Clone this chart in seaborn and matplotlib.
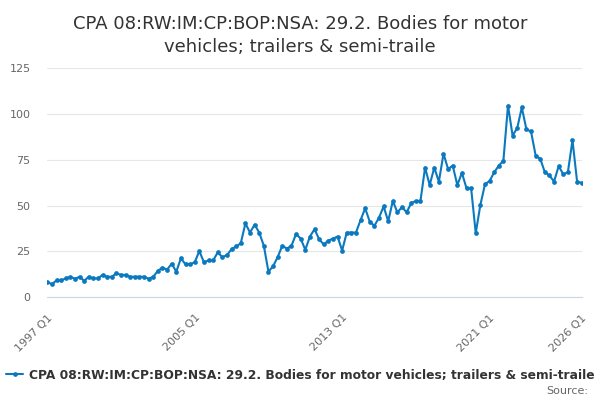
import matplotlib
matplotlib.use("Agg")
import matplotlib.pyplot as plt
import seaborn as sns
import pandas as pd

TITLE_LINES = ["CPA 08:RW:IM:CP:BOP:NSA: 29.2. Bodies for motor",
               "vehicles; trailers & semi-traile"]
SERIES_NAME = "CPA 08:RW:IM:CP:BOP:NSA: 29.2. Bodies for motor vehicles; trailers & semi-traile"

first_year = 1997
# quarterly values, 1997 Q1 .. 2026 Q1
values = [
    8.3, 7.2, 9.2, 9.2, 10.3, 11.2, 10.1, 11.2, 9.0, 11.2, 10.3, 10.3,
    12.2, 11.2, 11.2, 13.1, 12.2, 12.2, 11.2, 11.2, 11.2, 11.2, 10.1, 11.2,
    14.4, 16.2, 15.1, 18.3, 14.0, 21.2, 18.0, 18.0, 19.1, 25.2, 19.1, 20.1,
    20.1, 24.5, 21.9, 23.0, 26.3, 27.7, 29.5, 40.3, 35.3, 39.6, 35.3, 28.1,
    14.0, 16.9, 21.9, 28.1, 26.6, 28.1, 34.5, 32.0, 25.9, 33.1, 37.1, 31.7,
    28.8, 30.9, 32.0, 33.1, 25.5, 35.3, 35.3, 35.3, 42.1, 48.5, 41.2, 39.0,
    43.4, 49.5, 41.5, 52.5, 46.3, 49.2, 46.3, 51.4, 52.5, 52.5, 70.7, 61.2,
    70.7, 63.0, 78.3, 69.9, 71.8, 61.2, 67.8, 59.4, 59.4, 35.0, 50.3, 61.6,
    63.4, 68.1, 71.8, 74.4, 104.5, 88.2, 92.2, 103.5, 91.5, 90.4, 77.3, 75.5,
    68.2, 66.4, 63.1, 71.5, 67.1, 68.2, 85.6, 63.1, 62.4,
]
tick_quarters = ["1997 Q1", "1999 Q1", "2001 Q1", "2003 Q1", "2005 Q1", "2007 Q1",
                 "2009 Q1", "2011 Q1", "2013 Q1", "2015 Q1", "2017 Q1", "2019 Q1",
                 "2021 Q1", "2023 Q1", "2025 Q1", "2026 Q1"]
label_quarters = ["1997 Q1", "2005 Q1", "2013 Q1", "2021 Q1", "2026 Q1"]
y_ticks = [0, 25, 50, 75, 100, 125]

LINE = "#0a79c0"
GRID = "#e6e6e6"
AXIS = "#ccd6eb"
TEXT = "#333333"
LABEL = "#666666"

quarters = [f"{y} Q{q}" for y in range(first_year, first_year + 40) for q in range(1, 5)][:len(values)]
df = pd.DataFrame({"quarter": quarters, "value": values})
df["pos"] = range(len(df))

sns.set_style("white")
plt.rcParams["font.family"] = ["DejaVu Sans"]

fig = plt.figure(figsize=(6, 4), dpi=100)
ax = fig.add_axes([47.3 / 600, 1 - 297.3 / 400, 534.4 / 600, 229.3 / 400])

sns.lineplot(data=df, x="pos", y="value", ax=ax, color=LINE, linewidth=1.5,
             marker="o", markersize=3.4, markeredgewidth=0, label=SERIES_NAME)

ax.set_xlim(0, len(df) - 1)
ax.set_ylim(0, 125)
ax.set_yticks(y_ticks)
ax.set_yticklabels([str(v) for v in y_ticks], color=LABEL, fontsize=8)
ax.yaxis.grid(True, color=GRID, linewidth=0.8)
ax.set_axisbelow(True)
ax.tick_params(axis="y", length=0, pad=12)

tick_pos = [quarters.index(q) for q in tick_quarters]
ax.set_xticks(tick_pos)
ax.set_xticklabels([q if q in label_quarters else "" for q in tick_quarters],
                   rotation=45, ha="right", rotation_mode="anchor",
                   color=LABEL, fontsize=8)
ax.tick_params(axis="x", length=7, width=0.8, color=AXIS, direction="out", pad=4)

for side in ["left", "top", "right"]:
    ax.spines[side].set_visible(False)
ax.spines["bottom"].set_color(AXIS)
ax.spines["bottom"].set_linewidth(0.8)
ax.set_xlabel("")
ax.set_ylabel("")

fig.text(0.5, 1 - 29 / 400, TITLE_LINES[0], ha="center", va="baseline", fontsize=13, color=TEXT)
fig.text(0.5, 1 - 52 / 400, TITLE_LINES[1], ha="center", va="baseline", fontsize=13, color=TEXT)

ax.legend(loc="center left", bbox_to_anchor=(6 / 600, 1 - 375 / 400),
          bbox_transform=fig.transFigure, frameon=False, borderpad=0,
          borderaxespad=0, handlelength=1.4, handletextpad=0.45,
          prop={"weight": "bold", "size": 8.8}, labelcolor=TEXT)

fig.text(588 / 600, 1 - 391 / 400, "Source:", ha="right", va="center", fontsize=8, color=LABEL)

plt.savefig("out.png", dpi=100)
plt.close()
